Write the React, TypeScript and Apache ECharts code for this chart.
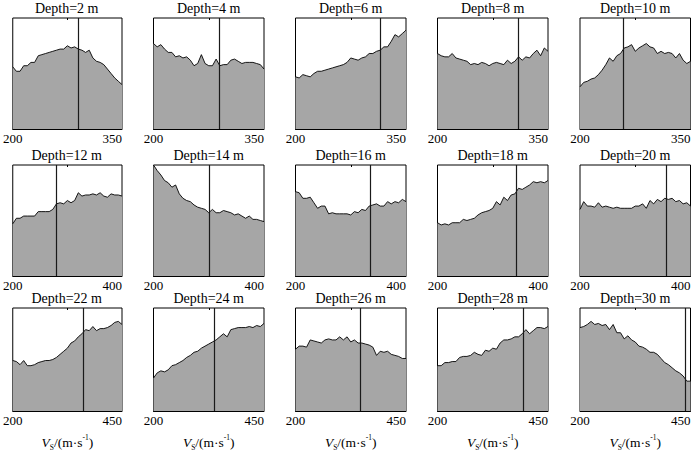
import React, { useEffect, useRef } from "react";
import * as echarts from "echarts";

const depths = [2, 4, 6, 8, 10, 12, 14, 16, 18, 20, 22, 24, 26, 28, 30];
const rowRanges = [
  [200, 350],
  [200, 400],
  [200, 450],
];
const meanLines = [290, 289, 315, 310, 259, 279, 301, 335, 342, 357, 362, 338, 347, 395, 437];

const d2 = [56, 52, 52, 57, 57, 60, 60, 66, 67, 68, 69, 70, 71, 72, 72, 75, 73, 74, 72, 71, 69, 71, 64, 61, 60, 58, 54, 50, 46, 43, 40];
const d4 = [77, 74, 76, 72, 69, 69, 65, 66, 64, 65, 62, 57, 59, 67, 59, 57, 57, 63, 57, 58, 58, 62, 63, 61, 59, 60, 60, 60, 59, 58, 54];
const d6 = [47, 46, 49, 48, 47, 50, 52, 52, 53, 54, 55, 56, 57, 58, 60, 64, 63, 62, 64, 65, 68, 68, 70, 71, 74, 74, 79, 85, 83, 86, 89];
const d8 = [68, 66, 65, 65, 68, 64, 63, 62, 61, 58, 59, 58, 60, 59, 57, 59, 60, 59, 58, 62, 59, 61, 65, 62, 65, 64, 68, 71, 66, 73, 70];
const d10 = [38, 42, 43, 45, 46, 49, 53, 58, 64, 61, 66, 68, 73, 74, 76, 70, 73, 75, 77, 74, 73, 68, 70, 68, 69, 68, 64, 68, 62, 59, 61];
const d12 = [47, 52, 52, 54, 54, 54, 54, 58, 58, 58, 58, 60, 65, 66, 65, 68, 66, 68, 75, 72, 73, 73, 74, 73, 75, 72, 71, 74, 73, 73, 72];
const d14 = [100, 95, 91, 86, 84, 80, 82, 74, 70, 68, 67, 64, 62, 61, 60, 57, 60, 57, 57, 59, 58, 57, 55, 56, 54, 52, 54, 51, 51, 50, 49];
const d16 = [76, 75, 70, 70, 71, 66, 61, 63, 63, 56, 57, 56, 56, 56, 56, 55, 58, 57, 60, 59, 63, 64, 65, 63, 63, 67, 65, 67, 66, 69, 67];
const d18 = [48, 46, 47, 46, 48, 48, 48, 51, 50, 51, 52, 55, 57, 58, 59, 61, 67, 64, 71, 68, 73, 74, 79, 78, 80, 82, 85, 84, 85, 84, 86];
const d20 = [60, 67, 63, 63, 62, 66, 62, 63, 62, 61, 62, 61, 61, 61, 61, 63, 63, 65, 61, 68, 65, 69, 67, 70, 69, 70, 67, 68, 65, 66, 63];
const d22 = [49, 48, 45, 49, 44, 44, 45, 47, 48, 49, 49, 50, 52, 55, 58, 61, 66, 68, 72, 75, 79, 78, 82, 78, 80, 80, 81, 83, 86, 87, 84];
const d24 = [32, 37, 39, 38, 40, 44, 45, 47, 49, 52, 54, 57, 58, 61, 63, 65, 67, 69, 72, 75, 72, 79, 80, 81, 81, 81, 82, 81, 83, 82, 85];
const d26 = [60, 63, 63, 62, 69, 68, 67, 66, 69, 70, 69, 69, 72, 69, 72, 67, 69, 66, 66, 65, 64, 62, 54, 58, 57, 58, 55, 54, 53, 51, 51];
const d28 = [44, 44, 47, 47, 48, 48, 52, 53, 53, 54, 57, 55, 54, 59, 58, 61, 60, 66, 69, 69, 70, 72, 72, 75, 79, 75, 78, 81, 81, 80, 82];
const d30 = [81, 82, 84, 87, 84, 85, 83, 84, 79, 84, 76, 76, 70, 73, 69, 67, 63, 62, 60, 57, 57, 55, 51, 47, 45, 42, 39, 37, 34, 29, 29];

const panels = [d2, d4, d6, d8, d10, d12, d14, d16, d18, d20, d22, d24, d26, d28, d30];

const FONT = "Liberation Serif";
const colLeft = [11.5, 153.5, 295.5, 437.5, 580];
const gridW = 110.5;
const rowTop = [18, 165, 308];
const gridH = 111;

export default function App() {
  const ref = useRef<HTMLDivElement>(null);
  useEffect(() => {
    if (!ref.current) return;
    const chart = echarts.init(ref.current, null, { renderer: "svg" });
    const grids: any[] = [];
    const xAxes: any[] = [];
    const yAxes: any[] = [];
    const series: any[] = [];
    const graphics: any[] = [];
    panels.forEach((vals, i) => {
      const r = Math.floor(i / 5);
      const c = i % 5;
      const [mn, mx] = rowRanges[r];
      grids.push({
        left: colLeft[c],
        top: rowTop[r],
        width: gridW,
        height: gridH,
        show: true,
        borderColor: "#000",
        borderWidth: 1,
        backgroundColor: "transparent",
      });
      const xa: any = {
        gridIndex: i,
        type: "value",
        min: mn,
        max: mx,
        interval: 50,
        axisLine: { show: true, lineStyle: { color: "#000", width: 1 } },
        axisTick: { show: false },
        splitLine: { show: false },
        axisLabel: {
          fontFamily: FONT,
          fontSize: 13,
          color: "#000",
          margin: 3,
          showMinLabel: true,
          showMaxLabel: true,
          alignMinLabel: "center",
          alignMaxLabel: "right",
          formatter: (v: number) => (v === mn || v === mx ? String(v) : ""),
        },
      };
      if (r === 2) {
        xa.name = "{i|V}{s|S}{n|/(m·s}{p|-1}{n|)}";
        xa.nameLocation = "middle";
        xa.nameGap = 22;
        xa.nameTextStyle = {
          fontFamily: FONT,
          fontSize: 13.5,
          color: "#000",
          rich: {
            i: { fontFamily: FONT, fontSize: 13.5, fontStyle: "italic", color: "#000", lineHeight: 18, verticalAlign: "middle" },
            n: { fontFamily: FONT, fontSize: 13.5, color: "#000", lineHeight: 18, verticalAlign: "middle" },
            s: { fontFamily: FONT, fontSize: 7.5, color: "#000", lineHeight: 8, verticalAlign: "bottom" },
            p: { fontFamily: FONT, fontSize: 7.5, color: "#000", lineHeight: 9, verticalAlign: "top" },
          },
        };
      }
      xAxes.push(xa);
      xAxes.push({
        gridIndex: i,
        type: "value",
        position: "top",
        min: mn,
        max: mx,
        axisLine: { show: false },
        axisLabel: { show: false },
        splitLine: { show: false },
        axisTick: {
          show: true,
          inside: true,
          length: 2,
          lineStyle: { color: "#000", width: 1 },
          customValues: [(mn + mx) / 2],
        },
      });
      yAxes.push({
        gridIndex: i,
        type: "value",
        min: 0,
        max: 100,
        axisLine: { show: false },
        axisTick: { show: false },
        axisLabel: { show: false },
        splitLine: { show: false },
      });
      const step = (mx - mn) / (vals.length - 1);
      series.push({
        type: "line",
        xAxisIndex: i * 2,
        yAxisIndex: i,
        data: vals.map((v, k) => [mn + k * step, v]),
        symbol: "none",
        lineStyle: { color: "#000", width: 0.9 },
        areaStyle: { color: "#a6a6a6", opacity: 1 },
        markLine: {
          silent: true,
          symbol: ["none", "none"],
          label: { show: false },
          lineStyle: { color: "#1a1a1a", width: 1.2, type: "solid" },
          data: [{ xAxis: meanLines[i] }],
        },
      });
      graphics.push({
        type: "text",
        x: colLeft[c] + gridW / 2,
        y: rowTop[r] - 10,
        style: {
          text: `Depth=${depths[i]} m`,
          fontFamily: FONT,
          fontSize: 14,
          fill: "#000",
          textAlign: "center",
          textVerticalAlign: "middle",
        },
      });
    });
    chart.setOption({
      animation: false,
      backgroundColor: "#fff",
      textStyle: { fontFamily: FONT },
      grid: grids,
      xAxis: xAxes,
      yAxis: yAxes,
      series,
      graphic: graphics,
    });
    return () => chart.dispose();
  }, []);
  return (
    <div
      ref={ref}
      style={{ position: "fixed", left: 0, top: 0, width: 700, height: 452, background: "#fff" }}
    />
  );
}
